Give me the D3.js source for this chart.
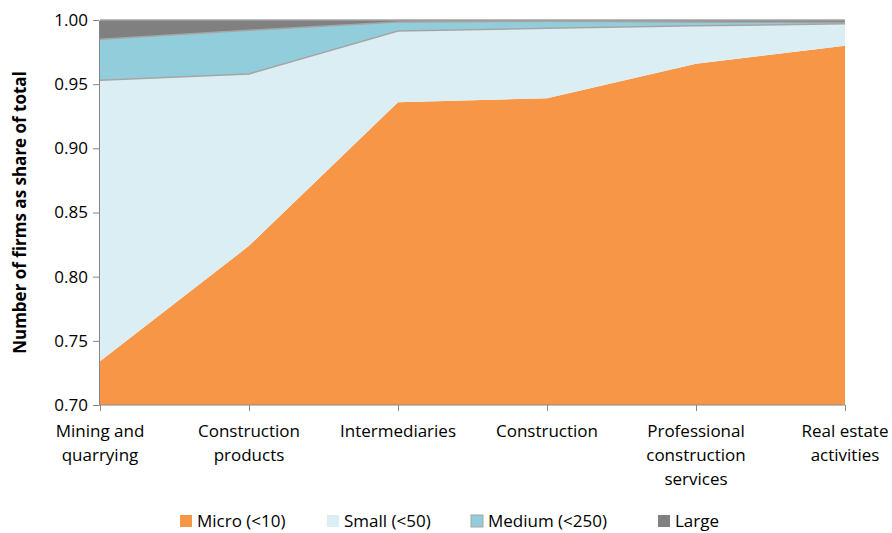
<!DOCTYPE html>
<html>
<head>
<meta charset="utf-8">
<script src="https://cdn.jsdelivr.net/npm/d3@7"></script>
<style>
  body { margin: 0; background: #fff; }
  text { font-family: "Open Sans", Lato, sans-serif; fill: #000; }
</style>
</head>
<body>
<div id="chart"></div>
<script>
// categories and values (share of firms by size class)
var categories = ["Mining and quarrying", "Construction products", "Intermediaries",
                  "Construction", "Professional construction services", "Real estate activities"];
var categoryLines = [["Mining and", "quarrying"], ["Construction", "products"], ["Intermediaries"],
                     ["Construction"], ["Professional", "construction", "services"], ["Real estate", "activities"]];
var micro  = [0.734, 0.824, 0.936, 0.939, 0.966, 0.980];
var small  = [0.219, 0.134, 0.0555, 0.0545, 0.0295, 0.017];
var medium = [0.032, 0.034, 0.007, 0.0055, 0.003, 0.001];
var large  = [0.015, 0.008, 0.0015, 0.001, 0.0015, 0.002];
var seriesNames = ["Micro (<10)", "Small (<50)", "Medium (<250)", "Large"];
var yTicks = [0.70, 0.75, 0.80, 0.85, 0.90, 0.95, 1.00];

var colors = ["#f79646", "#dbeef4", "#92cddc", "#808080"];

var width = 892, height = 533;
var margin = { top: 20, right: 47, bottom: 128, left: 99 };
var fs = 17;

var svg = d3.select("#chart").append("svg")
    .attr("width", width)
    .attr("height", height);

// build table for the stack
var table = categories.map(function (c, i) {
    return { cat: c, micro: micro[i], small: small[i], medium: medium[i], large: large[i] };
});
var keys = ["micro", "small", "medium", "large"];
var stacked = d3.stack().keys(keys)(table);

var x = d3.scalePoint().domain(categories).range([margin.left + 1, width - margin.right]);
var y = d3.scaleLinear().domain([0.70, 1.00]).range([height - margin.bottom, margin.top]);

var area = d3.area()
    .x(function (d) { return x(d.data.cat); })
    .y0(function (d) { return y(Math.max(d[0], 0.70)); })
    .y1(function (d) { return y(d[1]); });

var topLine = d3.line()
    .x(function (d) { return x(d.data.cat); })
    .y(function (d) { return y(d[1]); });

svg.append("defs").append("clipPath").attr("id", "clip")
    .append("rect")
    .attr("x", margin.left).attr("y", margin.top - 1)
    .attr("width", width - margin.right - margin.left + 1)
    .attr("height", height - margin.bottom - margin.top + 1);

var g = svg.append("g").attr("clip-path", "url(#clip)");

g.selectAll("path.area")
    .data(stacked)
    .enter().append("path")
    .attr("class", "area")
    .attr("fill", function (d, i) { return colors[i]; })
    .attr("d", area);

// grey edges on top of each band
g.selectAll("path.edge")
    .data(stacked.slice(1))
    .enter().append("path")
    .attr("class", "edge")
    .attr("fill", "none")
    .attr("stroke", "#a5a5a5")
    .attr("stroke-width", 1.5)
    .attr("d", topLine);

// Y axis
var yAxis = svg.append("g")
    .attr("transform", "translate(" + margin.left + ",0)")
    .call(d3.axisLeft(y).tickValues(yTicks).tickFormat(d3.format(".2f")).tickSize(6).tickSizeOuter(0));
yAxis.select(".domain").attr("stroke", "#868686");
yAxis.selectAll(".tick line").attr("stroke", "#868686");
yAxis.selectAll(".tick text").attr("font-size", fs).attr("x", -11);

// X axis
var xAxis = svg.append("g")
    .attr("transform", "translate(0," + (height - margin.bottom) + ")")
    .call(d3.axisBottom(x).tickSize(6).tickSizeOuter(0).tickFormat(""));
xAxis.select(".domain").attr("stroke", "#868686").attr("d", "M" + margin.left + ",0H" + (width - margin.right));
xAxis.selectAll(".tick line").attr("stroke", "#868686");

// category labels
categories.forEach(function (c, i) {
    var t = svg.append("text")
        .attr("text-anchor", "middle")
        .attr("font-size", fs)
        .attr("x", x(c))
        .attr("y", 437);
    categoryLines[i].forEach(function (line, j) {
        t.append("tspan").attr("x", x(c)).attr("dy", j === 0 ? 0 : 24).text(line);
    });
});

// y title
svg.append("text")
    .attr("transform", "translate(26," + ((margin.top + height - margin.bottom) / 2) + ") rotate(-90)")
    .attr("text-anchor", "middle")
    .attr("font-size", fs)
    .attr("font-weight", "bold")
    .text("Number of firms as share of total");

// legend
var legendX = [180, 327, 471, 658];
var legend = svg.append("g");
seriesNames.forEach(function (name, i) {
    legend.append("rect")
        .attr("x", legendX[i]).attr("y", 515)
        .attr("width", 12).attr("height", 12)
        .attr("fill", colors[i])
        .attr("stroke", i === 2 ? "#a5a5a5" : "none");
    legend.append("text")
        .attr("x", legendX[i] + 17).attr("y", 527)
        .attr("font-size", fs)
        .text(name);
});
</script>
</body>
</html>
